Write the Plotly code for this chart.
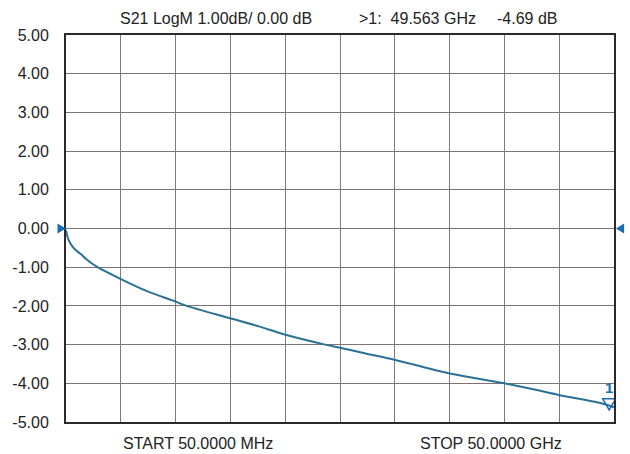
import plotly.graph_objects as go

# ---- data ----
freq_ghz = [0.05, 0.14, 0.25, 0.5, 0.9, 1.4, 1.85, 2.93, 5.01, 7.44, 10.06, 11.05, 15.02, 17.63,
            19.98, 23.67, 25.02, 27.37, 29.98, 32.51, 34.94, 37.65, 39.99, 42.43,
            44.95, 47.2, 49.0, 50.0]
s21_db = [-0.05, -0.16, -0.27, -0.41, -0.55, -0.66, -0.78, -1.0, -1.3, -1.62, -1.89, -2.0, -2.32, -2.53,
          -2.74, -3.0, -3.08, -3.23, -3.39, -3.57, -3.74, -3.88, -4.0, -4.14,
          -4.3, -4.42, -4.53, -4.62]

y_ticks = [5, 4, 3, 2, 1, 0, -1, -2, -3, -4, -5]
y_tick_labels = ["5.00", "4.00", "3.00", "2.00", "1.00", "0.00",
                 "-1.00", "-2.00", "-3.00", "-4.00", "-5.00"]

start_ghz = 0.05
stop_ghz = 50.0
ref_level_db = 0.0
marker_freq_ghz = 49.563
marker_db = -4.69

header_left = "S21 LogM 1.00dB/ 0.00 dB"
header_mid = ">1:  49.563 GHz"
header_right = "-4.69 dB"
footer_left = "START 50.0000 MHz"
footer_right = "STOP 50.0000 GHz"

FONT = "Liberation Sans, Arial, sans-serif"
BLUE = "#1b6db0"

fig = go.Figure()
fig.add_trace(go.Scatter(
    x=freq_ghz, y=s21_db, mode="lines",
    line=dict(color="#2b7196", width=2, shape="spline", smoothing=0.8),
    hoverinfo="skip", showlegend=False,
))

x_step = (stop_ghz - start_ghz) / 10
fig.update_xaxes(
    range=[start_ghz, stop_ghz], tick0=start_ghz, dtick=x_step,
    showgrid=True, gridcolor="#7c7c7c", gridwidth=1,
    showticklabels=False, ticks="", zeroline=False,
    showline=True, linecolor="#2a2a2a", linewidth=2, mirror=True,
)
fig.update_yaxes(
    range=[-5, 5], tickvals=y_ticks, ticktext=y_tick_labels,
    showgrid=True, gridcolor="#7f7272", gridwidth=1,
    ticks="", ticklabelstandoff=12, zeroline=False,
    showline=True, linecolor="#2a2a2a", linewidth=2, mirror=True,
    tickfont=dict(family=FONT, size=16, color="#222222"),
)

# reference-level arrows on both sides
fig.add_shape(type="path", xref="paper", yref="y",
              path=f"M -0.0155 {ref_level_db + 0.13} L 0 {ref_level_db} L -0.0155 {ref_level_db - 0.13} Z",
              fillcolor=BLUE, line=dict(color=BLUE, width=0), layer="above")
fig.add_shape(type="path", xref="paper", yref="y",
              path=f"M 1.0035 {ref_level_db} L 1.0185 {ref_level_db + 0.13} L 1.0185 {ref_level_db - 0.13} Z",
              fillcolor=BLUE, line=dict(color=BLUE, width=0), layer="above")

# marker 1 (open downward triangle with tip on the trace)
half_w = 0.6
tri_h = 0.29
fig.add_shape(type="path", xref="x", yref="y",
              path=(f"M {marker_freq_ghz - half_w} {marker_db + tri_h} "
                    f"L {marker_freq_ghz + half_w} {marker_db + tri_h} "
                    f"L {marker_freq_ghz} {marker_db} Z"),
              line=dict(color=BLUE, width=1.5), layer="above")
fig.add_annotation(x=marker_freq_ghz, y=marker_db + tri_h, xref="x", yref="y",
                   text="<b>1</b>", showarrow=False, yanchor="bottom", yshift=1,
                   font=dict(family=FONT, size=15, color=BLUE))

txt_font = dict(family=FONT, size=16, color="#222222")
for txt, xp in [(header_left, 0.274), (header_mid, 0.641), (header_right, 0.841)]:
    fig.add_annotation(x=xp, y=1, xref="paper", yref="paper", text=txt,
                       showarrow=False, xanchor="center", yanchor="middle",
                       yshift=17, font=txt_font)
for txt, xp in [(footer_left, 0.240), (footer_right, 0.776)]:
    fig.add_annotation(x=xp, y=0, xref="paper", yref="paper", text=txt,
                       showarrow=False, xanchor="center", yanchor="middle",
                       yshift=-21, font=txt_font)

fig.update_layout(
    width=630, height=454,
    margin=dict(l=60, r=16, t=35, b=32),
    paper_bgcolor="white", plot_bgcolor="white",
    font=dict(family=FONT),
    showlegend=False,
)

fig.write_html("out.html")
